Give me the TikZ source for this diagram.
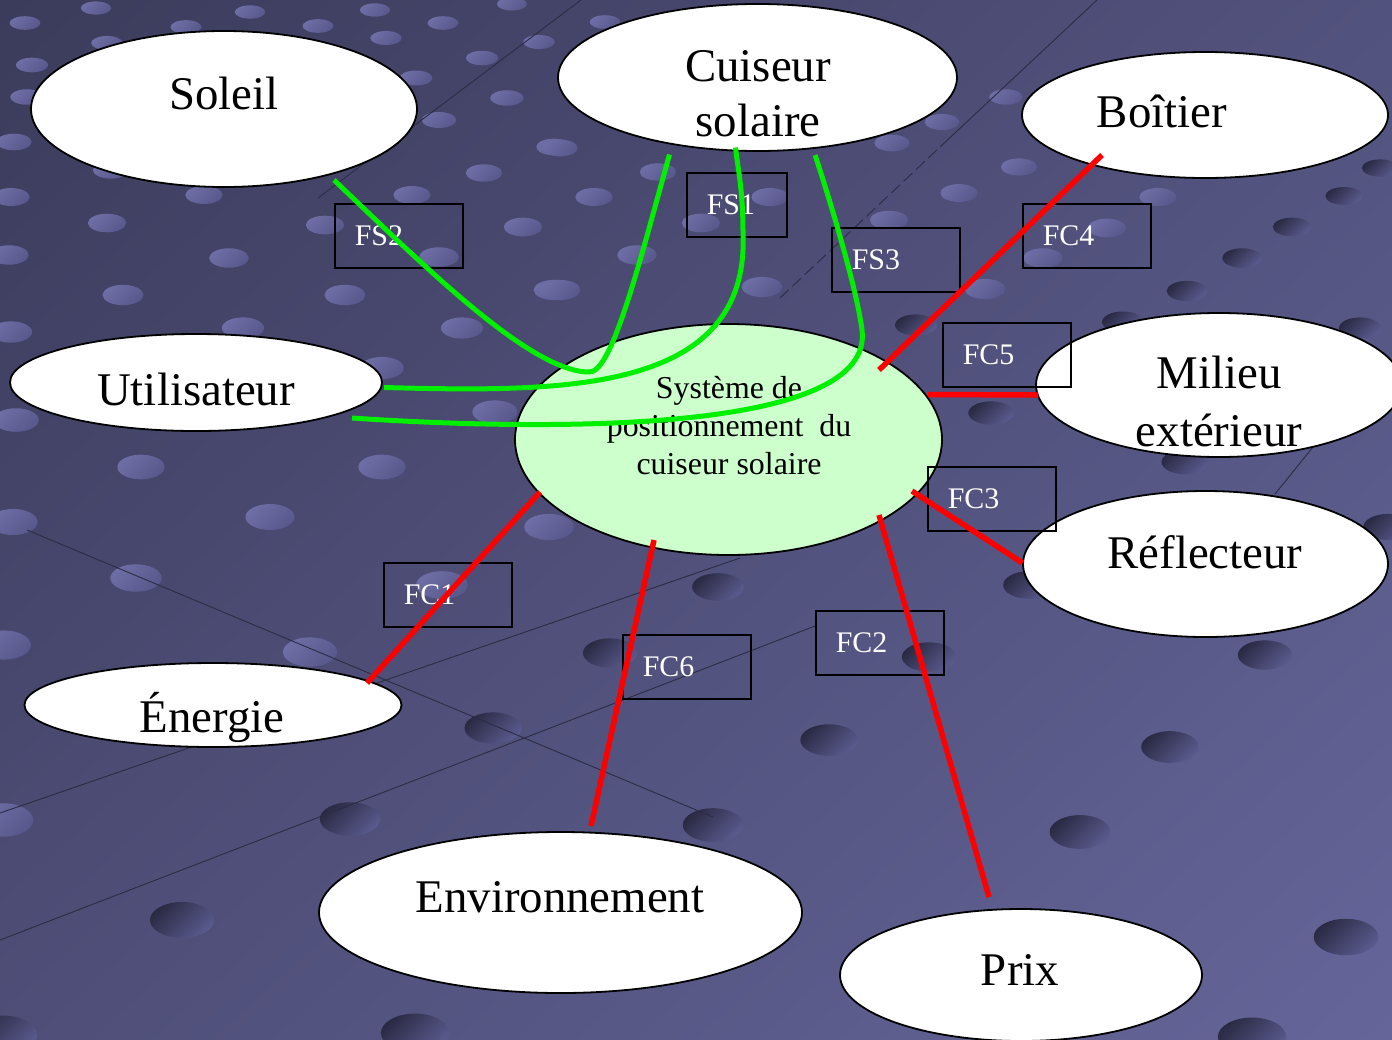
\documentclass[tikz,border=0pt]{standalone}
\usepackage{fontspec}
\setmainfont{Liberation Serif}
\usepackage{xcolor}
\definecolor{cBgA}{HTML}{3B3B5B}
\definecolor{cBgB}{HTML}{65659A}
\definecolor{cBgC}{HTML}{52527E}
\definecolor{cBgD}{HTML}{4E4E78}
\definecolor{cSys}{HTML}{CCFFCC}
\definecolor{cFS}{HTML}{00F000}
\definecolor{cFC}{HTML}{FF0000}
\definecolor{cDotLa}{HTML}{6E6EA6}
\definecolor{cDotLb}{HTML}{58588C}
\definecolor{cDotDa}{HTML}{2A2A44}
\definecolor{cDotDb}{HTML}{5A5A8E}
\definecolor{cGrid}{HTML}{2C2C44}
\usetikzlibrary{shapes.geometric,calc,shadings}
\tikzset{
  node-ext/.style={draw=black,line width=1.8bp,fill=white,ellipse,inner sep=0pt},
  node-sys/.style={node-ext,fill=cSys},
  node-txt/.style={inner sep=0pt,align=center,font=\fontsize{47}{56}\selectfont},
  node-fn/.style={draw=black,line width=1.6bp,rectangle,anchor=north west,
    minimum height=64bp,inner xsep=20bp,inner ysep=0pt,text width=88bp,
    align=left,text=white,font=\fontsize{30}{36}\selectfont},
  link-fs/.style={draw=cFS,line width=5bp},
  link-fc/.style={draw=cFC,line width=5.5bp},
  % fond : plots clairs en haut, creux sombres en bas
  bg-dot-light/.style={top color=cDotLa,bottom color=cDotLb,shading angle=45},
  bg-dot-dark/.style={top color=cDotDa,bottom color=cDotDb,shading angle=45},
  bg-line/.style={draw=cGrid,line width=0.9bp},
}

\begin{document}
\begin{tikzpicture}[x=1bp,y=-1bp]
  \useasboundingbox (0,0) rectangle (1392,1039);
  \clip (0,0) rectangle (1392,1039);
  \shade[upper left=cBgA,upper right=cBgC,lower left=cBgD,lower right=cBgB]
    (0,0) rectangle (1392,1039);
  \foreach \x/\y in {96/8,250/12,375/10,512/4,25/23,186/27,318/26,443/23,386/38,
      539/42,107/43,32/65,482/58,416/78,27/97,507/98,439/120,14/142,554/147,
      111/170,484/173,11/197,204/195,412/195,107/223,325/225,523/227,9/255,
      229/258,439/257,123/295,345/295,554/290,11/332,243/328,462/328,382/368,
      16/420,495/412,141/467,382/467,13/522,270/517,549/527,136/578,442/585,
      4/645,310/652,3/820,605/22,560/148,658/172,594/197,701/223,770/197,
      637/255,762/287,892/143,942/122,1006/97,1019/167,959/193,889/220,
      985/289,1158/197,1043/258,1107/228,560/290}{
    \pgfmathsetmacro\rx{15+0.0185*\y}
    \pgfmathsetmacro\ry{6.5+0.0125*\y}
    \shade[bg-dot-light] (\x,\y) ellipse [x radius=\rx bp,y radius=\ry bp];
  }
  \foreach \x/\y in {916/325,1242/258,1292/227,1344/196,1380/168,1187/291,
      1360/328,1123/322,991/413,1185/462,718/587,1029/585,1265/655,1388/527,
      929/657,493/728,610/653,829/740,1170/747,1080/832,713/825,1346/937,
      1252/1037,350/819,182/920,415/1033,3/1035}{
    \pgfmathsetmacro\rx{15+0.0185*\y}
    \pgfmathsetmacro\ry{6.5+0.0125*\y}
    \shade[bg-dot-dark] (\x,\y) ellipse [x radius=\rx bp,y radius=\ry bp];
  }
  \draw[bg-line] (318,198) -- (581,0);
  \draw[bg-line,dash pattern=on 12bp off 5bp] (780,298) -- (940,147);
  \draw[bg-line] (940,147) -- (1097,0);
  \draw[bg-line] (1313,447) -- (1275,494);
  \draw[bg-line] (0,813) -- (740,558);
  \draw[bg-line] (0,940) -- (815,626);
  \draw[bg-line] (27,530) -- (713,817);

  \node[node-ext,minimum width=386bp,minimum height=156bp] (soleil) at (224,109) {};
  \node[node-ext,minimum width=399bp,minimum height=147bp] (cuiseur) at (757.5,77.5) {};
  \node[node-ext,minimum width=366bp,minimum height=126bp] (boitier) at (1205,115) {};
  \node[node-ext,minimum width=372bp,minimum height=97bp] (utilisateur) at (196,382.5) {};
  \node[node-sys,minimum width=427bp,minimum height=231bp] (systeme) at (728.5,439.5) {};
  \node[node-ext,minimum width=366bp,minimum height=144bp] (milieu) at (1219,385) {};
  \node[node-ext,minimum width=365bp,minimum height=146bp] (reflecteur) at (1205.5,564) {};
  \node[node-ext,minimum width=377bp,minimum height=84bp] (energie) at (213,705) {};
  \node[node-ext,minimum width=483bp,minimum height=161bp] (environnement) at (560.5,912.5) {};
  \node[node-ext,minimum width=362bp,minimum height=132bp] (prix) at (1021,975) {};

  \node[node-txt,anchor=base] (soleil-t) at (224,109) {Soleil};
  \node[node-txt] (cuiseur-t) at (758,93.8) {Cuiseur\\solaire};
  \node[node-txt,anchor=base] (boitier-t) at (1162,127) {Boîtier};
  \node[node-txt,anchor=base] (utilisateur-t) at (196,405) {Utilisateur};
  \node[node-txt,font=\fontsize{32}{38.5}\selectfont] (systeme-t) at (729,425.5)
    {Système de\\positionnement~~du\\cuiseur solaire};
  \node[node-txt,font=\fontsize{47}{59}\selectfont] (milieu-t) at (1219,401.5)
    {Milieu\\extérieur};
  \node[node-txt,anchor=base] (reflecteur-t) at (1205,568) {Réflecteur};
  \node[node-txt,anchor=base] (energie-t) at (212,732) {Énergie};
  \node[node-txt,anchor=base] (environnement-t) at (560,912) {Environnement};
  \node[node-txt,anchor=base] (prix-t) at (1020,985) {Prix};

  \node[node-fn] (fs2) at (334,203) {FS2};
  \node[node-fn,text width=60bp] (fs1) at (686,172) {FS1};
  \node[node-fn] (fs3) at (831,227) {FS3};
  \node[node-fn] (fc4) at (1022,203) {FC4};
  \node[node-fn] (fc5) at (942,322) {FC5};
  \node[node-fn] (fc3) at (927,466) {FC3};
  \node[node-fn] (fc1) at (383,562) {FC1};
  \node[node-fn] (fc6) at (622,634) {FC6};
  \node[node-fn] (fc2) at (815,610) {FC2};

  \draw[link-fs] ($(soleil)+(110,71)$) .. controls (420,262) and (530,372) .. (589,372)
    .. controls (612,374) and (640,260) .. ($(cuiseur)+(-88,77)$);
  \draw[link-fs] ($(cuiseur)+(-22,70)$) .. controls (738,170) and (743,190) .. (743,233)
    .. controls (750,395) and (560,392) .. ($(utilisateur)+(188,5)$);
  \draw[link-fs] ($(cuiseur)+(57.5,77.5)$) .. controls (830,200) and (857,290) .. (862,330)
    .. controls (875,432) and (560,432) .. ($(utilisateur)+(156,35.5)$);

  \draw[link-fc] ($(boitier)+(-103,40)$) -- ($(systeme)+(150.5,-69.5)$);
  \draw[link-fc] ($(systeme)+(199.5,-45)$) -- ($(milieu)+(-181,10)$);
  \draw[link-fc] ($(systeme)+(183.5,51.5)$) -- ($(reflecteur)+(-183,-1)$);
  \draw[link-fc] ($(systeme)+(150.5,75.5)$) -- ($(prix)+(-32,-78)$);
  \draw[link-fc] ($(systeme)+(-74.5,100.5)$) -- ($(environnement)+(30.5,-86.5)$);
  \draw[link-fc] ($(systeme)+(-188.5,52.5)$) -- ($(energie)+(154,-22)$);
\end{tikzpicture}
\end{document}
